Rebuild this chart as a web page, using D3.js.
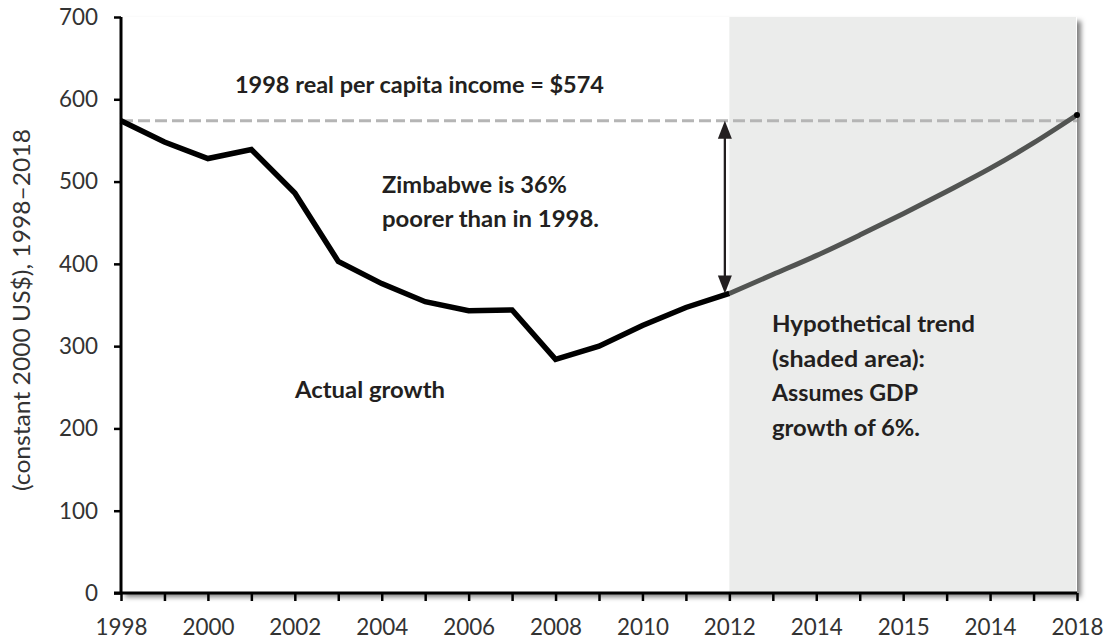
<!DOCTYPE html>
<html>
<head>
<meta charset="utf-8">
<script src="https://cdn.jsdelivr.net/npm/d3@7/dist/d3.min.js"></script>
<style>
  html, body { margin: 0; padding: 0; background: #ffffff; }
  svg { display: block; }
  text { font-family: Lato, "Open Sans", "Noto Sans", sans-serif; }
</style>
</head>
<body>
<svg id="chart" width="1120" height="641"></svg>
<script>
// Category slots along the x axis (one per year step); labels on every second slot
const xTickLabels = ["1998", "2000", "2002", "2004", "2006", "2008", "2010",
                     "2012", "2014", "2015", "2014", "2018"];
const slotCount = 23;

// Actual real GDP per capita, slots 0..14 (1998–2012)
const actualSlots  = [0, 1, 2, 3, 4, 5, 6, 7, 8, 9, 10, 11, 12, 13, 14];
const actualValues = [574, 548, 528, 539, 486, 403, 376, 354, 343, 344, 284, 300, 325, 347, 364];

// Hypothetical trend at 6% growth, slots 14..22
const trendSlots  = [14, 15, 16, 17, 18, 19, 20, 21, 22];
const trendValues = [364, 387, 410, 435, 461, 488, 516, 547, 581];

const baselineIncome = 574;
const yTicks = [0, 100, 200, 300, 400, 500, 600, 700];

const svg = d3.select("#chart");
const margin = { left: 121, right: 43, top: 17, bottom: 48 };
const W = 1120, H = 641;

const x = d3.scaleLinear().domain([0, slotCount - 1]).range([margin.left, W - margin.right]);
const y = d3.scaleLinear().domain([0, 700]).range([H - margin.bottom, margin.top]);

const defs = svg.append("defs");
const shadow = defs.append("filter").attr("id", "plotShadow")
  .attr("x", "-5%").attr("y", "-5%").attr("width", "112%").attr("height", "115%");
shadow.append("feDropShadow").attr("dx", 4).attr("dy", 4).attr("stdDeviation", 2.5)
  .attr("flood-color", "#000").attr("flood-opacity", 0.5);

// Plot area with drop shadow
svg.append("rect")
  .attr("x", x(0)).attr("y", y(700))
  .attr("width", x(slotCount - 1) - x(0)).attr("height", y(0) - y(700))
  .attr("fill", "#ffffff").attr("filter", "url(#plotShadow)");

// Shaded region for the hypothetical trend
svg.append("rect")
  .attr("x", x(trendSlots[0])).attr("y", y(700))
  .attr("width", x(slotCount - 1) - x(trendSlots[0]) - 1).attr("height", y(0) - y(700))
  .attr("fill", "#ebeceb");

// 1998 reference level
svg.append("line")
  .attr("x1", x(0)).attr("x2", x(slotCount - 1))
  .attr("y1", y(baselineIncome)).attr("y2", y(baselineIncome))
  .attr("stroke", "#b5b5b5").attr("stroke-width", 3).attr("stroke-dasharray", "12,5");

// Hypothetical trend line
const line = d3.line().x(d => x(d[0])).y(d => y(d[1])).curve(d3.curveMonotoneX);
svg.append("path")
  .datum(trendSlots.map((s, i) => [s, trendValues[i]]))
  .attr("d", line)
  .attr("fill", "none").attr("stroke", "#525452").attr("stroke-width", 5);

svg.append("circle")
  .attr("cx", x(trendSlots[trendSlots.length - 1]))
  .attr("cy", y(trendValues[trendValues.length - 1]))
  .attr("r", 3).attr("fill", "#000");

// Actual growth line
const lineActual = d3.line().x(d => x(d[0])).y(d => y(d[1]));
svg.append("path")
  .datum(actualSlots.map((s, i) => [s, actualValues[i]]))
  .attr("d", lineActual)
  .attr("fill", "none").attr("stroke", "#000").attr("stroke-width", 5.5)
  .attr("stroke-linejoin", "miter");

// Gap arrow between the 1998 level and the 2012 value
const ax = x(trendSlots[0]) - 4.5;
const yTop = y(baselineIncome), yBot = y(trendValues[0]);
const headL = 18, headW = 7;
svg.append("line")
  .attr("x1", ax).attr("x2", ax).attr("y1", yTop + headL - 2).attr("y2", yBot - headL + 2)
  .attr("stroke", "#231f20").attr("stroke-width", 2.3);
svg.append("path")
  .attr("d", `M${ax},${yTop} L${ax - headW},${yTop + headL} L${ax + headW},${yTop + headL} Z`)
  .attr("fill", "#231f20");
svg.append("path")
  .attr("d", `M${ax},${yBot} L${ax - headW},${yBot - headL} L${ax + headW},${yBot - headL} Z`)
  .attr("fill", "#231f20");

// Axes
const xAxis = d3.axisBottom(x)
  .tickValues(d3.range(slotCount))
  .tickSize(8)
  .tickFormat(d => (d % 2 === 0 ? xTickLabels[d / 2] : ""));
const gx = svg.append("g").attr("transform", `translate(0,${y(0)})`).call(xAxis);
gx.select(".domain").attr("d", `M${x(0) - 7},0H${x(slotCount - 1)}`)
  .attr("stroke", "#000").attr("stroke-width", 3);
gx.selectAll(".tick line").attr("stroke", "#000").attr("stroke-width", 2.5);
gx.selectAll(".tick text")
  .attr("y", 26).attr("dy", "0.71em")
  .attr("fill", "#333").style("font-size", "23px").style("font-family", "Lato, sans-serif")
  .filter(function () { return this.textContent !== ""; })
  .attr("textLength", 52).attr("lengthAdjust", "spacingAndGlyphs");

const yAxis = d3.axisLeft(y).tickValues(yTicks).tickSize(7);
const gy = svg.append("g").attr("transform", `translate(${x(0)},0)`).call(yAxis);
gy.select(".domain").attr("d", `M0,${y(700)}V${y(0)}`)
  .attr("stroke", "#000").attr("stroke-width", 3);
gy.selectAll(".tick line").attr("stroke", "#000").attr("stroke-width", 2.5);
gy.selectAll(".tick text")
  .attr("x", -23)
  .attr("fill", "#333").style("font-size", "23px").style("font-family", "Lato, sans-serif")
  .attr("textLength", d => String(d).length * 13).attr("lengthAdjust", "spacingAndGlyphs");

// Y axis title
svg.append("text")
  .attr("transform", `translate(30,310) rotate(-90)`)
  .attr("text-anchor", "middle")
  .attr("fill", "#333").style("font-size", "24px")
  .attr("textLength", 362).attr("lengthAdjust", "spacingAndGlyphs")
  .text("(constant 2000 US$), 1998–2018");

// Annotations: [text, width] pairs per line
const note = (lines, px, py, step) => {
  lines.forEach(([s, w], i) => {
    svg.append("text").attr("fill", "#231f20")
      .style("font-size", "23px").style("font-weight", "700")
      .attr("x", px).attr("y", py + i * step)
      .attr("textLength", w).attr("lengthAdjust", "spacingAndGlyphs")
      .text(s);
  });
};
note([["1998 real per capita income = $574", 369]], 235, 93, 0);
note([["Zimbabwe is 36%", 185], ["poorer than in 1998.", 217]], 382, 193, 34);
note([["Actual growth", 150]], 295, 398, 0);
note([["Hypothetical trend", 203], ["(shaded area):", 153], ["Assumes GDP", 146],
      ["growth of 6%.", 148]], 772, 332, 34.5);
</script>
</body>
</html>
